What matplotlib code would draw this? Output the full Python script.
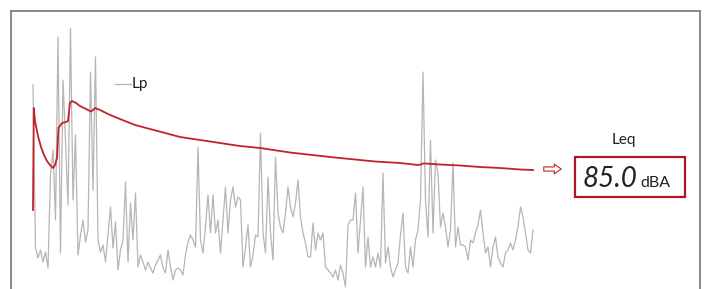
import matplotlib
matplotlib.use("Agg")
import matplotlib.pyplot as plt
from matplotlib.patches import Rectangle

# sound level samples (dB), one every time step
lp_db = [
    93.5, 77.2, 76.2, 77.0, 75.8, 76.8, 75.2, 84.5, 87.0, 80.0,
    98.3, 76.7, 94.0, 88.0, 81.5, 99.2, 82.0, 88.5, 76.5, 78.5,
    80.0, 77.8, 79.0, 94.8, 83.0, 96.3, 78.0, 76.8, 77.5, 75.8,
    78.5, 81.3, 77.2, 79.8, 75.0, 77.0, 78.0, 83.8, 75.8, 81.7,
    78.0, 82.7, 75.3, 76.5, 75.8, 75.0, 75.8, 75.2, 74.7, 75.5,
    76.0, 76.5, 75.2, 74.7, 77.0, 75.3, 74.0, 75.0, 75.2, 75.0,
    74.5, 76.5, 77.8, 78.5, 78.0, 77.3, 87.3, 78.0, 76.7, 79.3,
    82.5, 78.7, 82.5, 78.7, 80.0, 76.7, 80.0, 83.3, 78.7, 82.0,
    83.3, 81.3, 82.3, 82.0,
    75.3, 77.3, 79.5, 75.3, 76.5, 78.5, 78.3, 88.7, 78.7, 76.7,
    84.3, 78.7, 76.0, 86.3, 80.7, 79.3, 78.7, 80.7, 83.3, 81.3,
    80.3, 81.7, 84.0, 80.3, 78.7, 77.7, 76.3, 76.3, 79.7, 77.0,
    78.7, 78.0, 78.7, 75.3, 75.0, 74.7, 74.3, 75.0, 74.0, 75.5,
    74.7, 73.3, 79.5, 80.0, 80.0, 82.7, 76.7, 80.0, 83.3, 75.3,
    78.3, 75.3, 76.3, 75.3, 76.7, 75.3, 84.7, 75.7, 77.3, 75.3,
    74.3, 75.0, 75.7, 78.5, 80.7, 75.3, 74.7, 77.3, 75.3, 78.0,
    79.0, 82.0, 94.8, 82.0, 78.3, 88.0, 78.7, 86.0, 84.7, 79.3,
    80.7, 79.3, 77.3, 79.0, 85.7, 77.3, 79.3, 77.5,
    77.5, 77.3, 76.0, 78.0, 77.7, 78.7, 79.5, 81.0, 78.7, 76.7,
    77.3, 75.3, 77.3, 78.3, 76.3, 75.7, 75.3, 76.7, 77.0, 77.7,
    77.0, 78.0, 79.3, 81.3, 80.3, 78.7, 77.0, 76.7, 79.0,
]
lp_t = list(range(len(lp_db)))

# running equivalent level
leq_t = [0, 0.3, 0.8, 2, 3.2, 4.4, 5.6, 6.8, 8, 8.8,
         9.6, 10.2, 11.6, 13.2, 14, 14.8, 15.6, 17.2, 18.8, 20.4,
         22, 23.2, 24, 24.8, 26.8, 30, 32.8, 36.8, 40.8, 46.8,
         52.8, 58.8, 66.8, 74.8, 82.8, 90.8, 102.8, 118.8, 136.8, 146.8,
         154, 155.2, 156, 156.8, 162.8, 170.8, 178.8, 186.8, 194.8, 200]
leq_db = [81.0, 91.2, 89.9, 88.4, 87.3, 86.5, 85.9, 85.5, 85.2, 85.5,
          86.2, 89.2, 89.7, 89.8, 89.9, 91.7, 91.9, 91.7, 91.4, 91.2,
          91.0, 90.85, 91.0, 91.2, 91.0, 90.6, 90.3, 89.9, 89.5, 89.1,
          88.7, 88.3, 88.0, 87.7, 87.4, 87.2, 86.75, 86.3, 85.85, 85.7,
          85.5, 85.55, 85.65, 85.65, 85.55, 85.45, 85.3, 85.2, 85.05, 85.0]
leq_value = 85.0
unit = "dBA"

RED = "#c0232b"
GRAY = "#b5b5b5"
W, H = 706, 289

fig = plt.figure(figsize=(W / 100, H / 100), dpi=100)
fig.patch.set_facecolor("white")
ax = fig.add_axes([11 / W, 0, 689 / W, 1 - 11 / H])
ax.plot(lp_t, lp_db, color=GRAY, lw=0.9)
ax.plot(leq_t, leq_db, color=RED, lw=1.3)
ax.set_xlim(-8.8, 266.8)
ax.set_ylim(73.1, 100.9)
ax.set_xticks([])
ax.set_yticks([])
for side in ["left", "top", "right"]:
    ax.spines[side].set_color("#808080")
    ax.spines[side].set_linewidth(1.3)
ax.spines["bottom"].set_visible(False)

def fx(px):
    return px / W

def fy(py):
    return 1 - py / H

# legend entry for Lp
fig.add_artist(plt.Line2D([fx(115), fx(131)], [fy(84), fy(84)], color=GRAY, lw=0.9))
fig.text(fx(132), fy(84), "Lp", family="Lato", fontsize=11, va="center", ha="left", color="#222222")

# arrow to readout
ax.annotate("", xy=(fx(564), fy(169)), xytext=(fx(541), fy(169)),
            xycoords="figure fraction", textcoords="figure fraction",
            arrowprops=dict(arrowstyle="simple,head_length=0.5,head_width=0.7,tail_width=0.3",
                            fc="white", ec=RED, lw=0.8))

fig.text(fx(624), fy(140), "Leq", family="Lato", fontsize=11, va="center", ha="center", color="#222222")
fig.add_artist(Rectangle((fx(575), fy(197)), (685 - 575) / W, 40 / H,
                         transform=fig.transFigure, fill=False, ec="#b01820", lw=1.6))
fig.text(fx(637), fy(187), f"{leq_value:.1f}", family="Lato", fontstyle="italic",
         fontsize=20, ha="right", va="baseline", color="#222222")
fig.text(fx(640), fy(187), unit, family="Lato", fontsize=11.5, ha="left", va="baseline", color="#222222")

fig.savefig("out.png", dpi=100, facecolor="white")
